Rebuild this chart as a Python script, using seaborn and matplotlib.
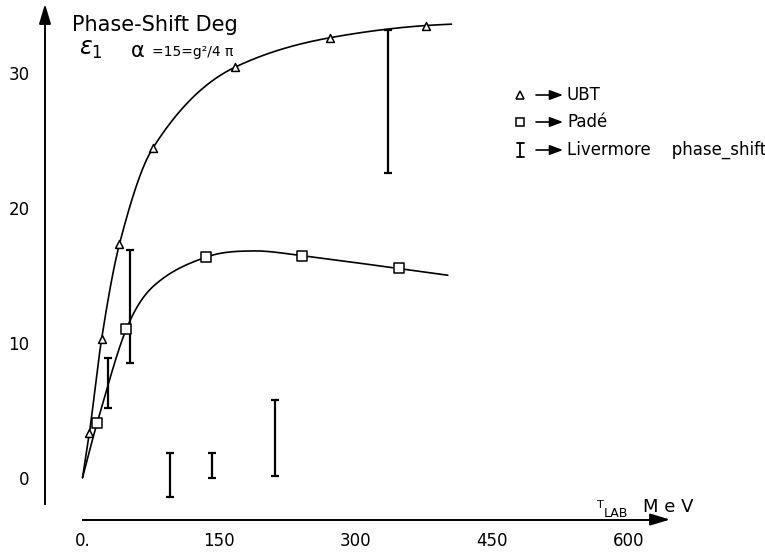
import numpy as np
import pandas as pd
import matplotlib
matplotlib.use("Agg")
import matplotlib.pyplot as plt
import seaborn as sns

# UBT phase shifts (open triangles)
ubt_energy = [7.5, 21, 40.5, 77, 167, 272, 377]
ubt_phase = [3.3, 10.3, 17.3, 24.4, 30.4, 32.6, 33.5]
# the drawn UBT curve starts at the origin and runs on to 405 MeV
ubt_curve_start = (0, 0)
ubt_curve_end = (405, 33.6)

# Pade phase shifts (open squares)
pade_energy = [16, 48, 136, 241, 347]
pade_phase = [4.05, 11.0, 16.35, 16.45, 15.5]
# extra knots of the drawn Pade curve (bend and maximum)
pade_curve_extra_energy = [0, 78, 187, 401]
pade_curve_extra_phase = [0, 14.2, 16.8, 15.0]

# Livermore phase-shift ranges
livermore_energy = [28, 52, 96, 142, 211, 335]
livermore_low = [5.2, 8.5, -1.45, 0.0, 0.1, 22.55]
livermore_high = [8.85, 16.85, 1.85, 1.8, 5.75, 33.15]

x_ticks = [0, 150, 300, 450, 600]
x_tick_labels = ["0.", "150", "300", "450", "600"]
y_ticks = [0, 10, 20, 30]
y_tick_labels = ["0", "10", "20", "30"]


def smooth_curve(xk, yk, xs, monotone=False):
    """Cubic Hermite curve through the knots.

    monotone=True uses Fritsch-Carlson slopes, otherwise centred differences.
    """
    order = np.argsort(xk)
    xk = np.asarray(xk, float)[order]
    yk = np.asarray(yk, float)[order]
    h = np.diff(xk)
    d = np.diff(yk) / h
    m = np.zeros_like(yk)
    m[0], m[-1] = d[0], d[-1]
    if monotone:
        for i in range(1, len(xk) - 1):
            if d[i - 1] * d[i] > 0:
                w1 = 2 * h[i] + h[i - 1]
                w2 = h[i] + 2 * h[i - 1]
                m[i] = (w1 + w2) / (w1 / d[i - 1] + w2 / d[i])
    else:
        m[1:-1] = (yk[2:] - yk[:-2]) / (xk[2:] - xk[:-2])
    idx = np.clip(np.searchsorted(xk, xs) - 1, 0, len(h) - 1)
    t = (xs - xk[idx]) / h[idx]
    h00 = 2 * t**3 - 3 * t**2 + 1
    h10 = t**3 - 2 * t**2 + t
    h01 = -2 * t**3 + 3 * t**2
    h11 = t**3 - t**2
    return (h00 * yk[idx] + h10 * h[idx] * m[idx]
            + h01 * yk[idx + 1] + h11 * h[idx] * m[idx + 1])


sns.set_style("white")
plt.rcParams["font.family"] = ["DejaVu Sans"]
plt.rcParams["text.color"] = "black"
plt.rcParams["xtick.color"] = "black"
plt.rcParams["ytick.color"] = "black"

W, H = 765, 556
fig = plt.figure(figsize=(W / 100, H / 100), dpi=100)
ax = fig.add_axes([0, 0, 1, 1])
ax.set_xlim(-90.6, 749.2)
ax.set_ylim(-5.8, 35.39)
ax.set_facecolor("white")


def fxy(px, py):
    return px / W, 1 - py / H


# smooth theory curves
ubt_knots_e = [ubt_curve_start[0]] + ubt_energy + [ubt_curve_end[0]]
ubt_knots_p = [ubt_curve_start[1]] + ubt_phase + [ubt_curve_end[1]]
pade_knots_e = pade_energy + pade_curve_extra_energy
pade_knots_p = pade_phase + pade_curve_extra_phase
for ke, kp, mono in [(ubt_knots_e, ubt_knots_p, True),
                     (pade_knots_e, pade_knots_p, False)]:
    xs = np.linspace(min(ke), max(ke), 600)
    curve = pd.DataFrame({"energy": xs,
                          "phase": smooth_curve(ke, kp, xs, monotone=mono)})
    sns.lineplot(data=curve, x="energy", y="phase", color="black", lw=1.2,
                 sort=False, estimator=None, ax=ax, zorder=2)

# computed points
sns.scatterplot(x=ubt_energy, y=ubt_phase, marker="^", s=32, facecolor="white",
                edgecolor="black", linewidth=1.1, ax=ax, zorder=3)
sns.scatterplot(x=pade_energy, y=pade_phase, marker="s", s=46, facecolor="white",
                edgecolor="black", linewidth=1.1, ax=ax, zorder=3)

# Livermore ranges
lo = np.array(livermore_low)
hi = np.array(livermore_high)
mid = (lo + hi) / 2
ax.errorbar(livermore_energy, mid, yerr=(hi - lo) / 2, fmt="none", ecolor="black",
            elinewidth=1.6, capsize=3.2, capthick=1.6, zorder=2)

# axes drawn as arrows
for s in ["top", "right"]:
    ax.spines[s].set_visible(False)
ax.spines["left"].set_position(("data", -41.2))
ax.spines["left"].set_bounds(-1.95, 34.0)
ax.spines["bottom"].set_position(("data", -3.1))
ax.spines["bottom"].set_bounds(0, 633)
for s in ["left", "bottom"]:
    ax.spines[s].set_linewidth(1.4)
    ax.spines[s].set_color("black")

ax.annotate("", xy=(-41.2, 35.1), xytext=(-41.2, 33.6),
            arrowprops=dict(arrowstyle="-|>,head_length=1.0,head_width=0.3",
                            color="black", lw=1.4, shrinkA=0, shrinkB=0,
                            mutation_scale=12))
ax.annotate("", xy=(645, -3.1), xytext=(628, -3.1),
            arrowprops=dict(arrowstyle="-|>,head_length=1.0,head_width=0.3",
                            color="black", lw=1.4, shrinkA=0, shrinkB=0,
                            mutation_scale=12))

ax.set_xticks(x_ticks)
ax.set_xticklabels(x_tick_labels)
ax.set_yticks(y_ticks)
ax.set_yticklabels(y_tick_labels)
ax.tick_params(axis="x", direction="in", length=5, width=1.2, pad=9,
               labelsize=12, colors="black")
ax.tick_params(axis="y", direction="out", length=8, width=1.2, pad=3,
               labelsize=12, colors="black")
ax.set_xlabel("")
ax.set_ylabel("")

# axis captions
fig.text(*fxy(72, 31), "Phase-Shift Deg", fontsize=15, ha="left", va="baseline")
fig.text(*fxy(79, 55), r"$\varepsilon_1$", fontsize=17, ha="left", va="baseline")
fig.text(*fxy(131, 57), "α", fontsize=15, ha="left", va="baseline")
fig.text(*fxy(152, 56), "=15=g²/4 π", fontsize=10, ha="left", va="baseline")
fig.text(*fxy(597, 508), "T", fontsize=8, ha="left", va="baseline")
fig.text(*fxy(604, 517), "LAB", fontsize=9, ha="left", va="baseline")
fig.text(*fxy(643, 512), "M e V", fontsize=13, ha="left", va="baseline")

# key
rows = [(95, "UBT"), (122, "Padé"), (150, "Livermore    phase_shift")]
ax.plot(*fxy(520, 95), marker="^", ms=5.5, mfc="white", mec="black", mew=1.1,
        transform=fig.transFigure)
ax.plot(*fxy(520, 122), marker="s", ms=6.2, mfc="white", mec="black", mew=1.1,
        transform=fig.transFigure)
x0, y0 = fxy(520, 143)
x1, y1 = fxy(520, 157)
ax.plot([x0, x1], [y0, y1], color="black", lw=1.3, transform=fig.transFigure)
for yy in (y0, y1):
    ax.plot([x0 - 3.5 / W, x0 + 3.5 / W], [yy, yy], color="black", lw=1.3,
            transform=fig.transFigure)
for py, label in rows:
    ax.annotate("", xy=fxy(563, py), xytext=fxy(536, py),
                xycoords="figure fraction", textcoords="figure fraction",
                arrowprops=dict(arrowstyle="-|>,head_length=0.8,head_width=0.3",
                                color="black", lw=1.2, shrinkA=0, shrinkB=0,
                                mutation_scale=10))
    fig.text(*fxy(567, py), label, fontsize=12, ha="left", va="center")

fig.savefig("out.png", dpi=100, facecolor="white")
